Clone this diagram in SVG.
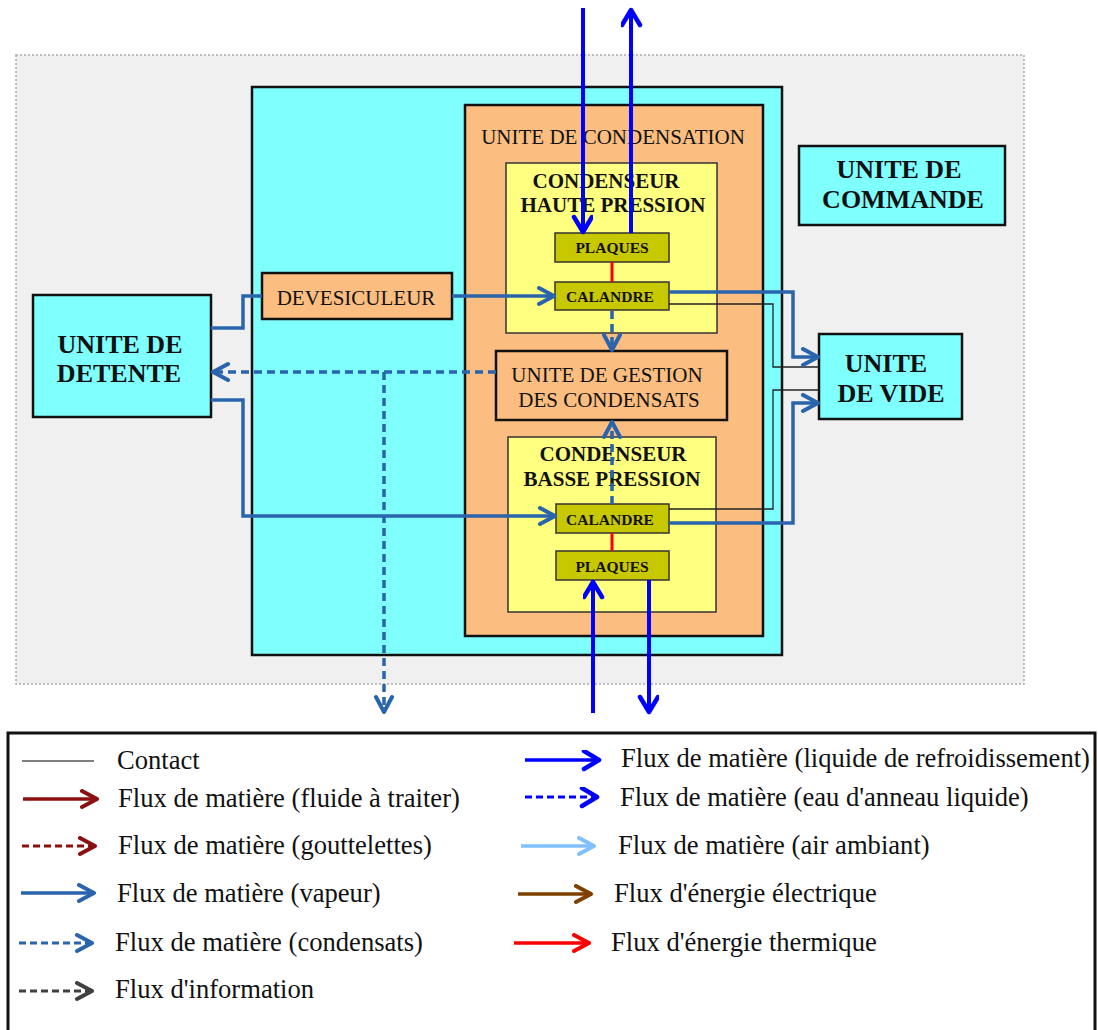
<svg xmlns="http://www.w3.org/2000/svg" width="1098" height="1030" viewBox="0 0 1098 1030">
<style>
  .box { stroke: #111; stroke-width: 2.5; }
  .cyan { fill: #80ffff; }
  .peach { fill: #fbbe80; }
  .yel { fill: #ffff80; stroke: #333; stroke-width: 1.5; }
  .olive { fill: #c8c800; stroke: #333; stroke-width: 1.5; }
  .t { font-family: "Liberation Serif", "Times New Roman", serif; fill: #111; text-anchor: middle; }
  .n21 { font-size: 21px; }
  .b21 { font-size: 21px; font-weight: bold; }
  .b15 { font-size: 15.5px; font-weight: bold; }
  .b26 { font-size: 26px; font-weight: bold; }
  .lg { font-family: "Liberation Serif", "Times New Roman", serif; font-size: 26.6px; fill: #111; }
  .vap { fill: none; stroke: #2964ac; stroke-width: 3.5; }
  .cond { fill: none; stroke: #2964ac; stroke-width: 3.5; stroke-dasharray: 8 5; }
  .cool { fill: none; stroke: #0000ff; stroke-width: 4; }
  .contact { fill: none; stroke: #222; stroke-width: 1.3; }
</style>
<defs>
  <marker id="mVap" markerUnits="userSpaceOnUse" markerWidth="24" markerHeight="24" refX="19" refY="10" orient="auto">
    <path d="M3,2 L18,10 L3,18" fill="none" stroke="#2964ac" stroke-width="4" stroke-linejoin="round" stroke-linecap="round"/>
  </marker>
  <marker id="mCool" markerUnits="userSpaceOnUse" markerWidth="24" markerHeight="24" refX="19" refY="10" orient="auto">
    <path d="M3,1 L18,10 L3,19" fill="none" stroke="#0000ff" stroke-width="4.5" stroke-linejoin="round" stroke-linecap="round"/>
  </marker>
  <marker id="mRed" markerUnits="userSpaceOnUse" markerWidth="24" markerHeight="24" refX="19" refY="10" orient="auto">
    <path d="M3,2 L18,10 L3,18" fill="none" stroke="#8c1010" stroke-width="4" stroke-linejoin="round" stroke-linecap="round"/>
  </marker>
  <marker id="mGray" markerUnits="userSpaceOnUse" markerWidth="24" markerHeight="24" refX="19" refY="10" orient="auto">
    <path d="M3,2 L18,10 L3,18" fill="none" stroke="#404040" stroke-width="4" stroke-linejoin="round" stroke-linecap="round"/>
  </marker>
  <marker id="mLight" markerUnits="userSpaceOnUse" markerWidth="24" markerHeight="24" refX="19" refY="10" orient="auto">
    <path d="M3,2 L18,10 L3,18" fill="none" stroke="#80c0ff" stroke-width="4" stroke-linejoin="round" stroke-linecap="round"/>
  </marker>
  <marker id="mBrown" markerUnits="userSpaceOnUse" markerWidth="24" markerHeight="24" refX="19" refY="10" orient="auto">
    <path d="M3,2 L18,10 L3,18" fill="none" stroke="#7f3f00" stroke-width="4" stroke-linejoin="round" stroke-linecap="round"/>
  </marker>
  <marker id="mHot" markerUnits="userSpaceOnUse" markerWidth="24" markerHeight="24" refX="19" refY="10" orient="auto">
    <path d="M3,2 L18,10 L3,18" fill="none" stroke="#ff0000" stroke-width="4" stroke-linejoin="round" stroke-linecap="round"/>
  </marker>
</defs>
<rect width="1098" height="1030" fill="#ffffff"/>

<!-- system boundary -->
<rect id="boundary" x="16" y="55" width="1008" height="629" fill="#f0f0f0" stroke="#aaa" stroke-width="1.5" stroke-dasharray="2 2"/>

<g id="main-unit">
  <rect class="box cyan" x="252" y="87" width="530" height="568"/>
</g>
<g id="unite-condensation">
  <rect class="box peach" x="465" y="105" width="298" height="531"/>
  <text class="t n21" x="613" y="144">UNITE DE CONDENSATION</text>
</g>
<g id="condenseur-hp">
  <rect class="yel" x="506" y="163" width="211" height="170"/>
  <text class="t b21" x="606" y="188">CONDENSEUR</text>
  <text class="t b21" x="613" y="212">HAUTE PRESSION</text>
</g>
<g id="plaques-hp">
  <rect class="olive" x="555" y="233" width="114" height="29"/>
  <text class="t b15" x="612" y="253">PLAQUES</text>
</g>
<g id="calandre-hp">
  <rect class="olive" x="555" y="282" width="114" height="28"/>
  <text class="t b15" x="610" y="302">CALANDRE</text>
</g>
<g id="gestion">
  <rect class="box peach" x="496" y="351" width="231" height="69"/>
  <text class="t n21" x="607" y="382">UNITE DE GESTION</text>
  <text class="t n21" x="609" y="407">DES CONDENSATS</text>
</g>
<g id="condenseur-bp">
  <rect class="yel" x="508" y="437" width="208" height="175"/>
  <text class="t b21" x="613" y="461">CONDENSEUR</text>
  <text class="t b21" x="612" y="486">BASSE PRESSION</text>
</g>
<g id="calandre-bp">
  <rect class="olive" x="556" y="504" width="113" height="29"/>
  <text class="t b15" x="610" y="525">CALANDRE</text>
</g>
<g id="plaques-bp">
  <rect class="olive" x="556" y="551" width="113" height="29"/>
  <text class="t b15" x="612" y="572">PLAQUES</text>
</g>
<g id="devesiculeur">
  <rect class="box peach" x="262" y="273" width="190" height="46"/>
  <text class="t n21" x="356" y="305">DEVESICULEUR</text>
</g>
<g id="unite-detente">
  <rect class="box cyan" x="33" y="295" width="178" height="122"/>
  <text class="t b26" x="120" y="353">UNITE DE</text>
  <text class="t b26" x="119" y="382">DETENTE</text>
</g>
<g id="unite-vide">
  <rect class="box cyan" x="819" y="334" width="143" height="85"/>
  <text class="t b26" x="886" y="372">UNITE</text>
  <text class="t b26" x="891" y="402">DE VIDE</text>
</g>
<g id="unite-commande">
  <rect class="box cyan" x="799" y="146" width="206" height="79"/>
  <text class="t b26" x="899" y="178">UNITE DE</text>
  <text class="t b26" x="903" y="208">COMMANDE</text>
</g>

<g id="connectors">
  <!-- thermal contact plaques/calandre -->
  <line x1="612" y1="262" x2="612" y2="282" stroke="#ff0000" stroke-width="3"/>
  <line x1="612" y1="533" x2="612" y2="551" stroke="#ff0000" stroke-width="3"/>
  <!-- contact lines -->
  <polyline class="contact" points="669,304 773,304 773,367 819,367"/>
  <polyline class="contact" points="669,509 773,509 773,390 819,390"/>
  <!-- vapour -->
  <polyline class="vap" points="211,328 243,328 243,296 262,296"/>
  <polyline class="vap" points="452,296 555,296" marker-end="url(#mVap)"/>
  <polyline class="vap" points="211,400 243,400 243,516 556,516" marker-end="url(#mVap)"/>
  <polyline class="vap" points="669,292 793,292 793,357 819,357" marker-end="url(#mVap)"/>
  <polyline class="vap" points="669,523 793,523 793,403 819,403" marker-end="url(#mVap)"/>
  <!-- condensats -->
  <polyline class="cond" points="612,311 612,351" marker-end="url(#mVap)"/>
  <polyline class="cond" points="612,504 612,421" marker-end="url(#mVap)"/>
  <polyline class="cond" points="496,372 212,372" marker-end="url(#mVap)"/>
  <polyline class="cond" points="384,372 384,713" marker-end="url(#mVap)"/>
  <!-- cooling liquid -->
  <polyline class="cool" points="583,8 583,233" marker-end="url(#mCool)"/>
  <polyline class="cool" points="631,233 631,9" marker-end="url(#mCool)"/>
  <polyline class="cool" points="593,713 593,581" marker-end="url(#mCool)"/>
  <polyline class="cool" points="649,580 649,713" marker-end="url(#mCool)"/>
</g>

<g id="legend">
  <rect x="8" y="733" width="1087" height="305" fill="#ffffff" stroke="#111" stroke-width="3"/>
  <line x1="22" y1="761" x2="94" y2="761" stroke="#555" stroke-width="1.5"/>
  <text class="lg" x="117" y="769">Contact</text>
  <line x1="23" y1="799" x2="98" y2="799" stroke="#8c1010" stroke-width="3.5" marker-end="url(#mRed)"/>
  <text class="lg" x="118" y="807">Flux de matière (fluide à traiter)</text>
  <line x1="22" y1="846" x2="96" y2="846" stroke="#8c1010" stroke-width="3" stroke-dasharray="7 4" marker-end="url(#mRed)"/>
  <text class="lg" x="118" y="854">Flux de matière (gouttelettes)</text>
  <line x1="21" y1="893" x2="95" y2="893" stroke="#2964ac" stroke-width="3.5" marker-end="url(#mVap)"/>
  <text class="lg" x="117" y="902">Flux de matière (vapeur)</text>
  <line x1="19" y1="943" x2="93" y2="943" stroke="#2964ac" stroke-width="3" stroke-dasharray="7 4" marker-end="url(#mVap)"/>
  <text class="lg" x="115" y="951">Flux de matière (condensats)</text>
  <line x1="19" y1="991" x2="93" y2="991" stroke="#404040" stroke-width="3" stroke-dasharray="7 4" marker-end="url(#mGray)"/>
  <text class="lg" x="115" y="998">Flux d'information</text>

  <line x1="525" y1="760" x2="600" y2="760" stroke="#0000ff" stroke-width="3.5" marker-end="url(#mCool)"/>
  <text class="lg" x="621" y="767">Flux de matière (liquide de refroidissement)</text>
  <line x1="525" y1="797" x2="598" y2="797" stroke="#0000ff" stroke-width="3" stroke-dasharray="7 4" marker-end="url(#mCool)"/>
  <text class="lg" x="620" y="806">Flux de matière (eau d'anneau liquide)</text>
  <line x1="521" y1="846" x2="595" y2="846" stroke="#80c0ff" stroke-width="3.5" marker-end="url(#mLight)"/>
  <text class="lg" x="618" y="854">Flux de matière (air ambiant)</text>
  <line x1="518" y1="894" x2="592" y2="894" stroke="#7f3f00" stroke-width="3.5" marker-end="url(#mBrown)"/>
  <text class="lg" x="614" y="902">Flux d'énergie électrique</text>
  <line x1="514" y1="943" x2="590" y2="943" stroke="#ff0000" stroke-width="3.5" marker-end="url(#mHot)"/>
  <text class="lg" x="611" y="951">Flux d'énergie thermique</text>
</g>
</svg>
